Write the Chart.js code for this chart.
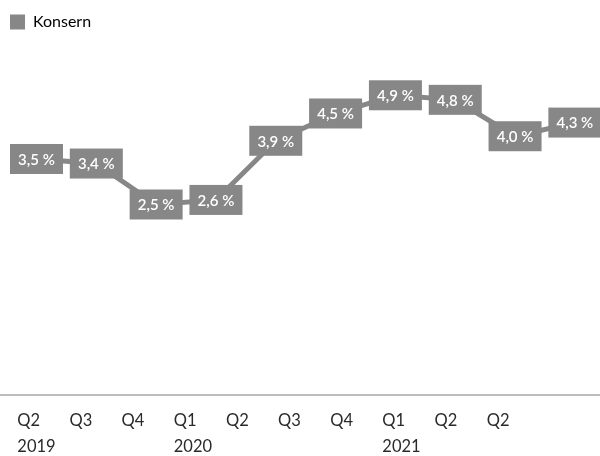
<!DOCTYPE html>
<html>
<head>
<meta charset="utf-8">
<script src="https://cdn.jsdelivr.net/npm/chart.js@4/dist/chart.umd.min.js"></script>
<style>
  html, body { margin: 0; padding: 0; background: #fff; }
  #wrap { width: 600px; height: 456px; }
</style>
</head>
<body>
<div id="wrap"><canvas id="chart"></canvas></div>
<script>
// kvartaler og år
const quarters = ['Q2', 'Q3', 'Q4', 'Q1', 'Q2', 'Q3', 'Q4', 'Q1', 'Q2', 'Q2']
const years = ['2019', '', '', '2020', '', '', '', '2021', '', '']
// Konsern, prosent
const konsern = [3.5, 3.4, 2.5, 2.6, 3.9, 4.5, 4.9, 4.8, 4.0, 4.3]

const grey = '#878787'
const font = 'Lato, "Open Sans", sans-serif'

const fmt = v => v.toFixed(1).replace('.', ',') + ' %'

// verdiboks på hvert punkt
const boxLabels = {
  id: 'boxLabels',
  afterDatasetsDraw(chart) {
    const ctx = chart.ctx
    const meta = chart.getDatasetMeta(0)
    ctx.save()
    ctx.font = '600 15px ' + font
    ctx.textAlign = 'center'
    ctx.textBaseline = 'middle'
    meta.data.forEach((pt, i) => {
      const w = 53, h = 30
      ctx.fillStyle = grey
      ctx.fillRect(pt.x - w / 2, pt.y - h / 2, w, h)
      ctx.fillStyle = '#fff'
      ctx.fillText(fmt(konsern[i]), pt.x, pt.y + 1)
    })
    ctx.restore()
  }
}

// fast høyde på legenden
const fixLegend = {
  id: 'fixLegend',
  beforeLayout(chart) {
    const lg = chart.legend
    if (lg && !lg._fixed) {
      const fit = lg.fit
      lg.fit = function () { fit.call(this); this.height = 38 }
      lg._fixed = true
    }
  }
}

new Chart(document.getElementById('chart'), {
  type: 'line',
  data: {
    datasets: [{
      label: 'Konsern',
      data: konsern.map((v, i) => ({ x: i, y: v })),
      borderColor: grey,
      backgroundColor: grey,
      borderWidth: 5,
      pointRadius: 0,
      tension: 0
    }]
  },
  options: {
    responsive: true,
    maintainAspectRatio: false,
    animation: false,
    layout: { padding: { top: 4, left: 0, right: 0, bottom: 0 } },
    plugins: {
      legend: {
        position: 'top',
        align: 'start',
        labels: {
          boxWidth: 15,
          boxHeight: 15,
          padding: 10,
          color: '#222',
          font: { family: font, size: 16 },
          generateLabels: chart => [{
            text: 'Konsern',
            fillStyle: grey,
            strokeStyle: grey,
            lineWidth: 0,
            datasetIndex: 0
          }]
        }
      },
      tooltip: { enabled: false }
    },
    scales: {
      x: {
        type: 'linear',
        display: false,
        min: -0.61,
        max: 9.42
      },
      xq: {
        type: 'linear',
        position: 'bottom',
        min: -0.332,
        max: 11.173,
        afterBuildTicks: axis => { axis.ticks = quarters.map((q, i) => ({ value: i })) },
        afterFit: axis => { axis.height = 61 },
        grid: { display: false, drawTicks: false },
        border: { display: true, color: '#bdbdbd', width: 2 },
        ticks: {
          align: 'start',
          padding: 13,
          autoSkip: false,
          maxRotation: 0,
          color: '#2a2a2a',
          font: { family: font, size: 16.5, lineHeight: 26 / 16.5 },
          callback: v => [quarters[v], years[v]]
        }
      },
      y: {
        display: false,
        min: -1.687,
        max: 6.071
      }
    }
  },
  plugins: [boxLabels, fixLegend]
})
</script>
</body>
</html>
